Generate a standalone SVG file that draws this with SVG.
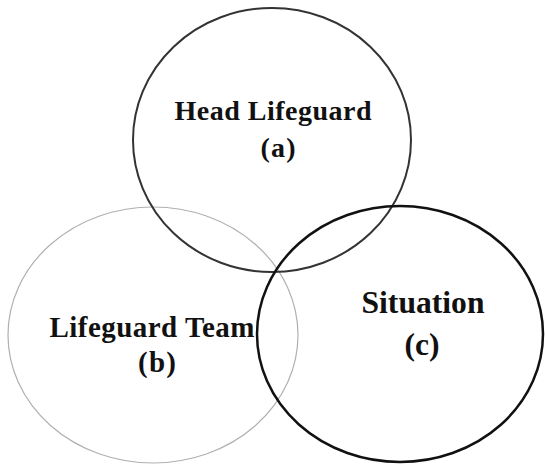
<svg xmlns="http://www.w3.org/2000/svg" width="545" height="464" viewBox="0 0 545 464">
<style>
.lbl{font-family:"Liberation Serif",serif;font-weight:700;fill:#111;text-anchor:middle}
</style>
<rect width="545" height="464" fill="#fff"/>
<g id="team">
<ellipse cx="153" cy="335" rx="145" ry="128" fill="none" stroke="#b0b0b0" stroke-width="1.2"/>
<text class="lbl" x="152" y="337" font-size="29" textLength="205" lengthAdjust="spacing">Lifeguard Team</text>
<text class="lbl" x="157" y="372" font-size="29" textLength="38" lengthAdjust="spacing">(b)</text>
</g>
<g id="head">
<ellipse cx="272" cy="140" rx="139" ry="132" fill="none" stroke="#333" stroke-width="2"/>
<text class="lbl" x="273" y="120" font-size="28" textLength="197" lengthAdjust="spacing">Head Lifeguard</text>
<text class="lbl" x="278" y="157" font-size="28" textLength="35" lengthAdjust="spacing">(a)</text>
</g>
<g id="situation">
<ellipse cx="400" cy="334" rx="143" ry="128" fill="none" stroke="#111" stroke-width="2.5"/>
<text class="lbl" x="423" y="313" font-size="31" textLength="123" lengthAdjust="spacingAndGlyphs">Situation</text>
<text class="lbl" x="422" y="355" font-size="31" textLength="35" lengthAdjust="spacingAndGlyphs">(c)</text>
</g>
<g id="connectors"/>
</svg>
